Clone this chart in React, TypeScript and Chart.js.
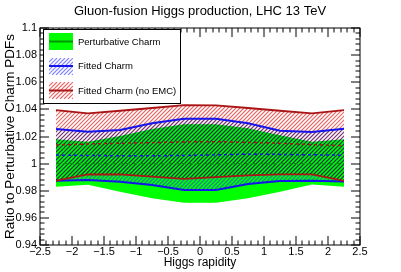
import React, { useEffect, useRef } from "react";
import { Chart, registerables } from "chart.js";

Chart.register(...registerables);

const rapidity = [-2.25, -1.75, -1.25, -0.75, -0.25, 0.25, 0.75, 1.25, 1.75, 2.25];
const pertUpper = [1.0179, 1.0162, 1.0204, 1.0255, 1.029, 1.029, 1.026, 1.021, 1.0162, 1.018];
const pertCentral = [1.0, 1.0, 1.0, 1.0, 1.0, 1.0, 1.0, 1.0, 1.0, 1.0];
const pertLower = [0.983, 0.9844, 0.9793, 0.9744, 0.9712, 0.9712, 0.9744, 0.9793, 0.9847, 0.983];
const fitUpper = [1.0255, 1.0235, 1.0248, 1.0297, 1.0331, 1.033, 1.0297, 1.0243, 1.0233, 1.0257];
const fitCentral = [1.0063, 1.006, 1.0058, 1.0058, 1.006, 1.0065, 1.007, 1.0068, 1.0065, 1.0062];
const fitLower = [0.9874, 0.988, 0.9867, 0.9842, 0.9805, 0.9805, 0.985, 0.9872, 0.9874, 0.9869];
const noEmcUpper = [1.0395, 1.037, 1.039, 1.041, 1.0432, 1.043, 1.041, 1.039, 1.037, 1.0395];
const noEmcCentral = [1.0137, 1.0145, 1.015, 1.0155, 1.016, 1.0162, 1.0157, 1.015, 1.014, 1.0132];
const noEmcLower = [0.9874, 0.9921, 0.992, 0.9904, 0.9887, 0.99, 0.9914, 0.992, 0.9921, 0.9872];

const legendLabels = ["Perturbative Charm", "Fitted Charm", "Fitted Charm (no EMC)"];
const titleText = "Gluon-fusion Higgs production, LHC 13 TeV";
const xTitle = "Higgs rapidity";
const yTitle = "Ratio to Perturbative Charm PDFs";

const FONT = "'Liberation Sans', Arial, Helvetica, sans-serif";
const GREEN = "rgb(0,255,0)";
const DKGREEN = "rgb(0,150,0)";
const BLUE = "rgb(20,20,235)";
const RED = "rgb(170,20,20)";
const RED_HATCH = "rgb(232,105,105)";
const BLUE_HATCH = "rgba(50,50,255,0.6)";

const pts = (ys: number[]) => rapidity.map((x, i) => ({ x, y: ys[i] }));

function strokeHatch(
  ctx: CanvasRenderingContext2D,
  left: number,
  top: number,
  right: number,
  bottom: number,
  color: string,
  op: GlobalCompositeOperation
) {
  ctx.globalCompositeOperation = op;
  ctx.strokeStyle = color;
  ctx.lineWidth = 1.2;
  ctx.beginPath();
  const H = Math.ceil(bottom - top);
  const t = Math.floor(top);
  for (let x = Math.floor(left - H) - 4; x < right + 4; x += 4) {
    ctx.moveTo(x, t + H);
    ctx.lineTo(x + H, t);
  }
  ctx.stroke();
  ctx.globalCompositeOperation = "source-over";
}

export default function App() {
  const ref = useRef<HTMLCanvasElement | null>(null);
  useEffect(() => {
    document.body.style.margin = "0";
    const canvas = ref.current;
    if (!canvas) return;

    const path = (chart: any, ctx: CanvasRenderingContext2D, upIdx: number, loIdx: number) => {
      const up = chart.getDatasetMeta(upIdx).data;
      const lo = chart.getDatasetMeta(loIdx).data;
      ctx.beginPath();
      up.forEach((p: any, i: number) => (i ? ctx.lineTo(p.x, p.y) : ctx.moveTo(p.x, p.y)));
      for (let i = lo.length - 1; i >= 0; i--) ctx.lineTo(lo[i].x, lo[i].y);
      ctx.closePath();
    };

    const bandPlugin = {
      id: "bands",
      beforeDraw(chart: any) {
        const ctx = chart.ctx as CanvasRenderingContext2D;
        ctx.save();
        ctx.fillStyle = "#fff";
        ctx.fillRect(0, 0, chart.width, chart.height);
        ctx.restore();
      },
      beforeDatasetsDraw(chart: any) {
        const ctx = chart.ctx as CanvasRenderingContext2D;
        const a = chart.chartArea;
        ctx.save();
        path(chart, ctx, 8, 7);
        ctx.fillStyle = GREEN;
        ctx.fill();
        ctx.restore();
        const band = (upIdx: number, loIdx: number, color: string, op: GlobalCompositeOperation) => {
          ctx.save();
          path(chart, ctx, upIdx, loIdx);
          ctx.clip();
          strokeHatch(ctx, a.left, a.top, a.right, a.bottom, color, op);
          ctx.restore();
        };
        band(6, 5, BLUE_HATCH, "source-over");
        band(4, 3, RED_HATCH, "multiply");
      },
    };

    const framePlugin = {
      id: "rootFrame",
      afterDatasetsDraw(chart: any) {
        const ctx = chart.ctx as CanvasRenderingContext2D;
        const a = chart.chartArea;
        const xs = chart.scales.x;
        const ys = chart.scales.y;
        ctx.save();
        ctx.strokeStyle = "#000";
        ctx.lineWidth = 1;
        const L = Math.round(a.left), R = Math.round(a.right), T = Math.round(a.top), B = Math.round(a.bottom);
        ctx.beginPath();
        for (let k = 0; k <= 40; k++) {
          const v = 0.94 + k * 0.004;
          const py = Math.round(ys.getPixelForValue(v));
          const len = k % 5 === 0 ? 9 : 4.5;
          ctx.moveTo(L, py);
          ctx.lineTo(L + len, py);
          ctx.moveTo(R, py);
          ctx.lineTo(R - len, py);
        }
        for (let k = 0; k <= 50; k++) {
          const v = -2.5 + k * 0.1;
          const px = Math.round(xs.getPixelForValue(v));
          const len = k % 5 === 0 ? 9 : 4.5;
          ctx.moveTo(px, B);
          ctx.lineTo(px, B - len);
          ctx.moveTo(px, T);
          ctx.lineTo(px, T + len);
        }
        ctx.stroke();
        ctx.strokeRect(L, T, R - L, B - T);

        // legend
        const lx = 43, ly = 29, lw = 137, lh = 74;
        ctx.fillStyle = "#fff";
        ctx.fillRect(lx, ly, lw, lh);
        ctx.strokeStyle = "#000";
        ctx.lineWidth = 1;
        ctx.strokeRect(lx + 0.5, ly + 0.5, lw, lh);
        const rows = [41.5, 66, 90.5];
        const lines = [DKGREEN, BLUE, RED];
        ctx.font = `9.5px ${FONT}`;
        ctx.textBaseline = "middle";
        ctx.textAlign = "left";
        rows.forEach((cy, i) => {
          const sx = 49, sy = Math.round(cy - 8.5), sw = 24, sh = 17;
          if (i === 0) {
            ctx.fillStyle = GREEN;
            ctx.fillRect(sx, sy, sw, sh);
          } else {
            ctx.save();
            ctx.beginPath();
            ctx.rect(sx, sy, sw, sh);
            ctx.clip();
            strokeHatch(ctx, sx, sy, sx + sw, sy + sh, i === 1 ? BLUE_HATCH : RED_HATCH, i === 1 ? "source-over" : "multiply");
            ctx.restore();
          }
          ctx.strokeStyle = lines[i];
          ctx.lineWidth = 2;
          ctx.beginPath();
          ctx.moveTo(sx, cy);
          ctx.lineTo(sx + sw, cy);
          ctx.stroke();
          ctx.fillStyle = "#000";
          ctx.fillText(legendLabels[i], 78, cy + 0.5);
        });

        // title
        ctx.font = `13px ${FONT}`;
        ctx.textAlign = "center";
        ctx.fillStyle = "#000";
        ctx.fillText(titleText, 200, 11);
        ctx.restore();
      },
    };

    const chart = new Chart(canvas, {
      type: "line",
      data: {
        datasets: [
          { data: pts(noEmcCentral), borderColor: RED, borderWidth: 1.5, borderDash: [3, 3], fill: false },
          { data: pts(fitCentral), borderColor: BLUE, borderWidth: 1.5, borderDash: [3, 3], fill: false },
          { data: pts(pertCentral), borderColor: DKGREEN, borderWidth: 1.2, borderDash: [4, 3], fill: false },
          { data: pts(noEmcLower), borderColor: RED, borderWidth: 1.8, fill: false },
          { data: pts(noEmcUpper), borderColor: RED, borderWidth: 1.8, fill: false },
          { data: pts(fitLower), borderColor: BLUE, borderWidth: 2, fill: false },
          { data: pts(fitUpper), borderColor: BLUE, borderWidth: 2, fill: false },
          { data: pts(pertLower), borderColor: "rgba(0,0,0,0)", borderWidth: 0, fill: false },
          { data: pts(pertUpper), borderColor: "rgba(0,0,0,0)", borderWidth: 0, fill: false },
        ],
      },
      options: {
        responsive: false,
        animation: false,
        devicePixelRatio: 1,
        layout: { padding: { top: 28, right: 41, left: 0, bottom: 0 } },
        elements: { point: { radius: 0, hoverRadius: 0 }, line: { tension: 0 } },
        plugins: {
          legend: { display: false },
          title: { display: false },
          tooltip: { enabled: false },
        },
        events: [],
        scales: {
          x: {
            type: "linear",
            min: -2.5,
            max: 2.5,
            grid: { display: false, drawTicks: false },
            border: { display: false },
            afterFit: (s: any) => { s.height = 27; },
            ticks: {
              stepSize: 0.5,
              autoSkip: false,
              maxRotation: 0,
              padding: 0,
              color: "#000",
              font: { family: FONT, size: 11 },
              callback: (v: any) => {
                const n = Number(Number(v).toFixed(2));
                return (n < 0 ? "\u2212" : "") + Math.abs(n).toString();
              },
            },
            title: { display: true, text: xTitle, color: "#000", font: { family: FONT, size: 12 }, padding: { top: 0, bottom: 2 } },
          },
          y: {
            min: 0.94,
            max: 1.1,
            grid: { display: false, drawTicks: false },
            border: { display: false },
            afterFit: (s: any) => { s.width = 40; },
            ticks: {
              stepSize: 0.02,
              padding: 3,
              color: "#000",
              font: { family: FONT, size: 11 },
              callback: (v: any) => Number(Number(v).toFixed(2)).toString(),
            },
            title: { display: true, text: yTitle, color: "#000", font: { family: FONT, size: 13.5 }, padding: { top: 2, bottom: 0 } },
          },
        },
      },
      plugins: [bandPlugin, framePlugin],
    });
    return () => chart.destroy();
  }, []);
  return (
    <div style={{ width: 401, height: 272 }}>
      <canvas ref={ref} width={401} height={272} style={{ display: "block" }} />
    </div>
  );
}
